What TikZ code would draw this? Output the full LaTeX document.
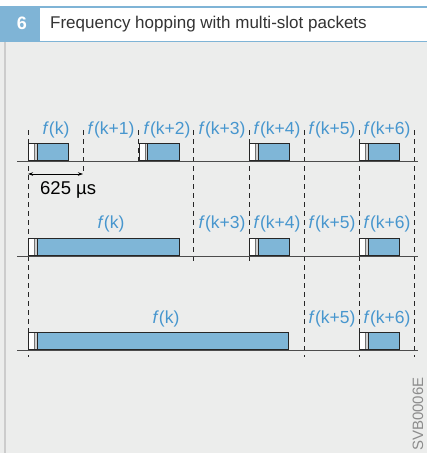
\documentclass[tikz,border=0pt]{standalone}
\usepackage{fontspec}
\setmainfont{Liberation Sans}
\usepackage{xcolor}
\usepackage{tikz}
\usetikzlibrary{arrows.meta}
\definecolor{bggray}{HTML}{ECEDEC}
\definecolor{hdrblue}{HTML}{7FB4D6}
\definecolor{pktblue}{HTML}{7FB6D7}
\definecolor{lblblue}{HTML}{4796CE}

\begin{document}
\begin{tikzpicture}[x=1pt, y=-1pt,
  lbl/.style={text=lblblue, font=\fontsize{17.5}{20}\selectfont, anchor=base, inner sep=0pt},
  pkt/.style={draw=black!85, line width=0.8pt, fill=pktblue, anchor=south west,
    inner sep=0pt, minimum height=17pt,
    path picture={
      \fill[white] (path picture bounding box.south west)
        rectangle ([xshift=6pt]path picture bounding box.north west);
      \fill[black!18] ([xshift=6pt]path picture bounding box.south west)
        rectangle ([xshift=8.5pt]path picture bounding box.north west);
      \draw[black!55, line width=0.6pt] ([xshift=6pt]path picture bounding box.south west)
        -- ([xshift=6pt]path picture bounding box.north west);
      \draw[black!85, line width=0.8pt] ([xshift=8.5pt]path picture bounding box.south west)
        -- ([xshift=8.5pt]path picture bounding box.north west);
    }},
  slotline/.style={dash pattern=on 5pt off 4pt, line width=0.8pt, black!85},
  axis/.style={line width=0.9pt, black!70},
  dim/.style={{Stealth[length=5pt,width=3.5pt]}-{Stealth[length=5pt,width=3.5pt]}, line width=0.7pt}
]
  \useasboundingbox (0,0) rectangle (427,453);
  \fill[white] (0,0) rectangle (427,453);

  % header
  \fill[hdrblue] (0,6) rectangle (427,42);
  \fill[white] (40,7.5) rectangle (427,40.5);
  \fill[bggray] (0,42) rectangle (427,453);
  \fill[black!20] (4,42) rectangle (6,453);
  \node[font=\fontsize{18}{18}\selectfont\bfseries, text=white, anchor=base, inner sep=0pt]
    (num) at (22,29) {6};
  \node[font=\fontsize{17}{17}\selectfont, text=black!80, anchor=base west, inner sep=0pt]
    (title) at (50,28.5) {Frequency hopping with multi-slot packets};

  % slot boundaries
  \foreach \x/\yb in {28/357, 83/174, 138.5/165, 193.5/262, 249/262, 304/357, 359/357, 414/357}
    \draw[slotline] (\x,130) -- (\x,\yb);

  % time axes
  \draw[axis] (17,161) -- (418,161);
  \draw[axis] (17,256) -- (418,256);
  \draw[axis] (17,350) -- (418,350);

  % single-slot packets
  \node[pkt, minimum width=40pt] (p1a) at (28,161) {};
  \node[pkt, minimum width=40pt] (p1b) at (138.5,161) {};
  \node[pkt, minimum width=40pt] (p1c) at (249,161) {};
  \node[pkt, minimum width=40pt] (p1d) at (359,161) {};

  % three-slot packets
  \node[pkt, minimum width=151pt] (p2a) at (28,256) {};
  \node[pkt, minimum width=40pt]  (p2b) at (249,256) {};
  \node[pkt, minimum width=40pt]  (p2c) at (359,256) {};

  % five-slot packets
  \node[pkt, minimum width=260pt] (p3a) at (28,350) {};
  \node[pkt, minimum width=40pt]  (p3b) at (359,350) {};

  % hop frequencies
  \node[lbl] (f1a) at (56,134)  {\textit{f}(k)};
  \node[lbl] (f1b) at (111,134) {\textit{f}(k+1)};
  \node[lbl] (f1c) at (167,134) {\textit{f}(k+2)};
  \node[lbl] (f1d) at (222,134) {\textit{f}(k+3)};
  \node[lbl] (f1e) at (277,134) {\textit{f}(k+4)};
  \node[lbl] (f1f) at (332,134) {\textit{f}(k+5)};
  \node[lbl] (f1g) at (387,134) {\textit{f}(k+6)};

  \node[lbl] (f2a) at (111,228) {\textit{f}(k)};
  \node[lbl] (f2d) at (222,228) {\textit{f}(k+3)};
  \node[lbl] (f2e) at (277,228) {\textit{f}(k+4)};
  \node[lbl] (f2f) at (332,228) {\textit{f}(k+5)};
  \node[lbl] (f2g) at (387,228) {\textit{f}(k+6)};

  \node[lbl] (f3a) at (166,323) {\textit{f}(k)};
  \node[lbl] (f3f) at (332,323) {\textit{f}(k+5)};
  \node[lbl] (f3g) at (387,323) {\textit{f}(k+6)};

  % slot length
  \coordinate (m0) at (28,174);
  \coordinate (m1) at (83,174);
  \draw[dim] (m0) -- (m1);
  \node[font=\fontsize{18.5}{20}\selectfont, anchor=base west, inner sep=0pt]
    (dur) at (40,194) {625 µs};

  \node[rotate=90, anchor=base west, inner sep=0pt, text=black!45,
    font=\fontsize{15}{15}\selectfont] (code) at (423,451) {SVB0006E};
\end{tikzpicture}
\end{document}
